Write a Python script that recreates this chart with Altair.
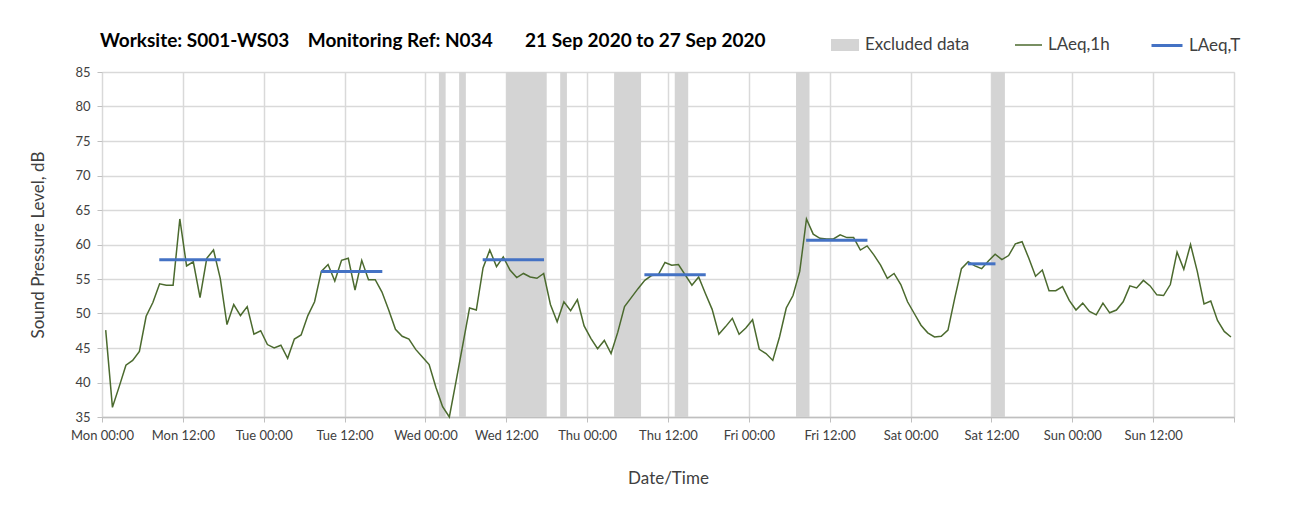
import altair as alt
import pandas as pd

# Hourly LAeq,1h values (dB), Mon 21 Sep 2020 00:00 onwards, one per hour
laeq_1h = [
    47.6, 36.4, 39.4, 42.5, 43.2, 44.5, 49.6, 51.6, 54.3, 54.1, 54.1, 63.7,
    56.9, 57.5, 52.3, 58.0, 59.2, 55.1, 48.4, 51.3, 49.7, 51.0, 47.0, 47.5,
    45.5, 45.0, 45.4, 43.5, 46.3, 46.9, 49.7, 51.7, 56.1, 57.1, 54.7, 57.7,
    58.0, 53.4, 57.7, 54.9, 54.9, 53.1, 50.5, 47.7, 46.7, 46.3, 44.8, 43.7,
    42.6, 39.3, 36.5, 35.0, 40.2, 45.5, 50.8, 50.5, 56.6, 59.2, 56.8, 58.2,
    56.3, 55.2, 55.8, 55.3, 55.1, 55.8, 51.3, 48.8, 51.7, 50.4, 52.0, 48.2,
    46.4, 44.9, 46.1, 44.2, 47.3, 51.0, 52.3, 53.6, 54.8, 55.5, 55.6, 57.4,
    57.0, 57.1, 55.6, 54.1, 55.3, 52.9, 50.6, 47.0, 48.1, 49.3, 47.0, 47.9,
    49.1, 44.8, 44.2, 43.2, 46.6, 50.8, 52.6, 56.1, 63.7, 61.5, 60.9, 60.8,
    60.8, 61.4, 61.0, 61.0, 59.2, 59.8, 58.5, 57.0, 55.1, 55.8, 54.2, 51.7,
    50.0, 48.3, 47.2, 46.6, 46.7, 47.6, 52.2, 56.5, 57.5, 56.9, 56.5, 57.6,
    58.6, 57.8, 58.4, 60.1, 60.4, 58.0, 55.4, 56.3, 53.3, 53.3, 53.9, 51.9,
    50.5, 51.5, 50.3, 49.8, 51.5, 50.1, 50.5, 51.7, 54.0, 53.7, 54.8, 54.0,
    52.7, 52.6, 54.2, 58.9, 56.4, 60.0, 56.1, 51.4, 51.8, 49.0, 47.4, 46.6,
]
hours = [i + 0.55 for i in range(len(laeq_1h))]

# Excluded data periods (hours from Mon 00:00)
excl_start = [50, 53, 60, 68, 76, 85, 103, 132]
excl_end = [51, 54, 66, 69, 80, 87, 105, 134]

# LAeq,T period averages
laeqT_start = [8.5, 32.5, 56.5, 80.5, 104.5, 128.5]
laeqT_end = [17.6, 41.6, 65.6, 89.6, 113.6, 132.6]
laeqT_value = [57.8, 56.1, 57.8, 55.6, 60.6, 57.2]

tick_hours = list(range(0, 169, 12))
y_ticks = list(range(35, 86, 5))

FONT = "Lato"
TXT = "#404040"

line_df = pd.DataFrame({"hour": hours, "level": laeq_1h, "series": "LAeq,1h"})
excl_df = pd.DataFrame({"start": excl_start, "end": excl_end, "series": "Excluded data"})
t_df = pd.DataFrame({"start": laeqT_start, "end": laeqT_end, "value": laeqT_value, "series": "LAeq,T"})

label_expr = (
    "datum.value >= 168 ? '' : "
    "['Mon','Tue','Wed','Thu','Fri','Sat','Sun','Mon'][floor(datum.value/24)] + "
    "(datum.value % 24 == 0 ? ' 00:00' : ' 12:00')"
)

x_scale = alt.Scale(domain=[0, 168], nice=False, zero=False)
y_scale = alt.Scale(domain=[35, 85], nice=False, zero=False, clamp=True)

x_axis = alt.Axis(
    values=tick_hours, labelExpr=label_expr, title="Date/Time",
    grid=True, gridColor="#d9d9d9", gridWidth=1.5,
    domainColor="#bfbfbf", domainWidth=1.5, tickColor="#bfbfbf", tickSize=5,
    labelFont=FONT, labelFontSize=13, labelColor=TXT, labelPadding=7,
    titleFont=FONT, titleFontSize=17, titleFontWeight="normal", titleColor=TXT,
    titlePadding=28, labelFlush=False,
)
y_axis = alt.Axis(
    values=y_ticks, title="Sound Pressure Level, dB",
    grid=True, gridColor="#d9d9d9", gridWidth=1.5,
    domain=False, tickColor="#bfbfbf", tickSize=5,
    labelFont=FONT, labelFontSize=13, labelColor=TXT, labelPadding=7,
    titleFont=FONT, titleFontSize=17, titleFontWeight="normal", titleColor=TXT,
    titlePadding=27,
)

def legend(x, y, symbol, size, stroke_w=None):
    kw = dict(
        title=None, orient="none", legendX=x, legendY=y, symbolType=symbol,
        symbolSize=size, labelFont=FONT, labelFontSize=17, labelColor=TXT,
        labelOffset=5, padding=0,
    )
    if stroke_w is not None:
        kw["symbolStrokeWidth"] = stroke_w
    return alt.Legend(**kw)

bands = alt.Chart(excl_df).mark_rect(opacity=1).encode(
    x=alt.X("start:Q", scale=x_scale, axis=x_axis),
    x2="end:Q",
    color=alt.Color(
        "series:N",
        scale=alt.Scale(domain=["Excluded data"], range=["#d4d4d4"]),
        legend=legend(728, -42, "M-1,-0.43L1,-0.43L1,0.43L-1,0.43Z", 784),
    ),
)

line = alt.Chart(line_df).mark_line(strokeWidth=1.5).encode(
    x=alt.X("hour:Q", scale=x_scale, axis=x_axis),
    y=alt.Y("level:Q", scale=y_scale, axis=y_axis),
    color=alt.Color(
        "series:N",
        scale=alt.Scale(domain=["LAeq,1h"], range=["#4b6a2e"]),
        legend=legend(912, -41.5, "stroke", 729, 1.5),
    ),
)

rule = alt.Chart(t_df).mark_rule(strokeWidth=3).encode(
    x=alt.X("start:Q", scale=x_scale, axis=x_axis),
    x2="end:Q",
    y=alt.Y("value:Q", scale=y_scale, axis=y_axis),
    color=alt.Color(
        "series:N",
        scale=alt.Scale(domain=["LAeq,T"], range=["#4472c4"]),
        legend=legend(1048, -43.5, "stroke", 961, 3),
    ),
)

title_text = ("Worksite: S001-WS03\u00a0\u00a0\u00a0\u00a0Monitoring Ref: N034"
              "\u00a0\u00a0\u00a0\u00a0\u00a0\u00a0\u00a021 Sep 2020 to 27 Sep 2020")

chart = (
    alt.layer(bands, line, rule)
    .resolve_scale(color="independent")
    .properties(
        width=1132, height=345,
        autosize=alt.AutoSizeParams(type="none"),
        padding={"left": 94, "top": 64, "right": 62, "bottom": 86},
        title=alt.TitleParams(
            title_text, anchor="start", frame="group", font=FONT, fontSize=19,
            fontWeight="bold", color="#000000", offset=-22, dx=-2,
        ),
    )
    .configure_view(stroke=None)
    .configure(background="white")
)

chart.save("out.html", embed_options={"renderer": "svg", "actions": False})
